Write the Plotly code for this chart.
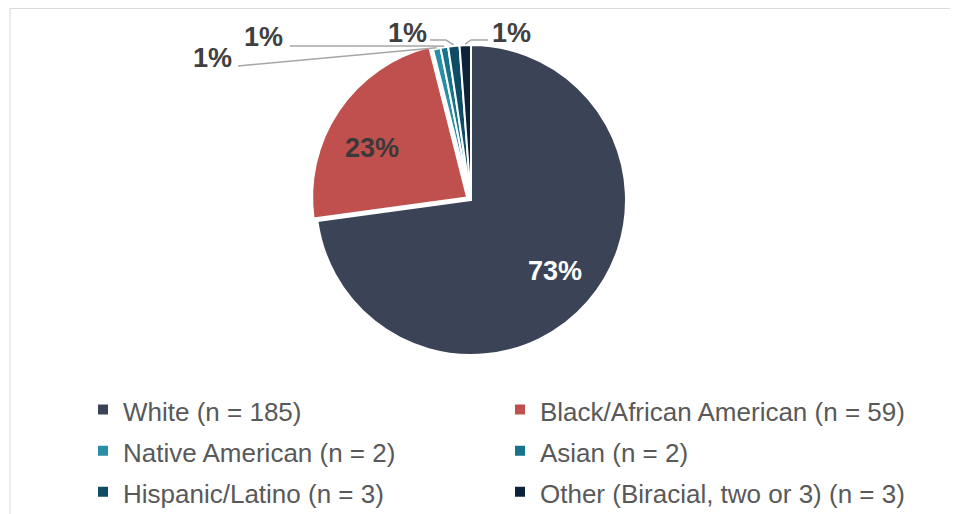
import math
import plotly.graph_objects as go

# ---------------- data ----------------
labels = [
    "White (n = 185)",
    "Black/African American (n = 59)",
    "Native American (n = 2)",
    "Asian (n = 2)",
    "Hispanic/Latino (n = 3)",
    "Other (Biracial, two or 3) (n = 3)",
]
counts = [185, 59, 2, 2, 3, 3]

# ---------------- style ----------------
colors = ["#3B4457", "#C0504D", "#2A8FA6", "#17738A", "#0E4C63", "#0B2238"]
pulls = [0, 0.03, 0, 0, 0, 0]

# page is rendered with an 8px body margin -> compensate
OFF = 8
W, H = 958 - OFF, 514 - OFF
FONT = "Liberation Sans, Arial, sans-serif"

# pie geometry (page pixels)
cx_px, cy_px, r_px = 471, 200, 155
maxpull = max(pulls)
half = r_px * (1 + maxpull)


def px2paper(x, y):
    return (x - OFF) / W, 1 - (y - OFF) / H


dx0, dy1 = px2paper(cx_px - half, cy_px - half)
dx1, dy0 = px2paper(cx_px + half, cy_px + half)

total = sum(counts)
pcts = [c / total for c in counts]

# legend rows are sized from the legend font; draw the text a bit smaller
legend_labels = ['<span style="font-size:26px">%s</span>' % l for l in labels]

fig = go.Figure()
fig.add_trace(go.Pie(
    labels=legend_labels,
    values=counts,
    sort=False,
    direction="clockwise",
    rotation=0,
    pull=pulls,
    marker=dict(colors=colors, line=dict(color="white", width=2)),
    textinfo="none",
    domain=dict(x=[dx0, dx1], y=[dy0, dy1]),
    customdata=labels,
    hovertemplate="%{customdata}<br>%{percent}<extra></extra>",
))

# slice mid-angles (computed from the data)
cum = 0.0
mids = []
for c in counts:
    mids.append((cum + c / 2) / total * 2 * math.pi)
    cum += c


def polar(i, rfrac, dang=0.0):
    a = mids[i] + math.radians(dang)
    r = r_px * rfrac + r_px * pulls[i]
    return cx_px + r * math.sin(a), cy_px - r * math.cos(a)


annotations = []
shapes = []

# inside labels for the large slices
inside = {
    0: dict(rfrac=0.71, dang=-1.0, color="#FFFFFF"),
    1: dict(rfrac=0.69, dang=-6.5, color="#3A3A3A"),
}
for i, spec in inside.items():
    x, y = polar(i, spec["rfrac"], spec["dang"])
    ax, ay = px2paper(x, y)
    annotations.append(dict(
        x=ax, y=ay, xref="paper", yref="paper",
        text="%d%%" % round(pcts[i] * 100), showarrow=False,
        font=dict(family=FONT, size=27, color=spec["color"], weight="bold"),
        xanchor="center", yanchor="middle",
    ))

# callout labels for the small slices (layout only)
callouts = {
    2: dict(text_xy=(212, 58), path=[(238, 66)]),
    3: dict(text_xy=(263, 37), path=[(290, 46), (430, 46)]),
    4: dict(text_xy=(407, 33), path=[(430, 40), (446, 40)]),
    5: dict(text_xy=(511, 33), path=[(488, 40), (471, 40)]),
}
for i, spec in callouts.items():
    tx, ty = px2paper(*spec["text_xy"])
    annotations.append(dict(
        x=tx, y=ty, xref="paper", yref="paper",
        text="%d%%" % round(pcts[i] * 100), showarrow=False,
        font=dict(family=FONT, size=27, color="#404040", weight="bold"),
        xanchor="center", yanchor="middle",
    ))
    pts = spec["path"] + [polar(i, 1.0 + 1.0 / r_px)]
    p = []
    for k, (x, y) in enumerate(pts):
        a, b = px2paper(x, y)
        p.append(("M" if k == 0 else "L") + "%.5f,%.5f" % (a, b))
    shapes.append(dict(type="path", xref="paper", yref="paper",
                       path=" ".join(p), line=dict(color="#A6A6A6", width=1.5)))

# faint frame lines (top & left)
fx, fy = px2paper(10, 8.5)
shapes.append(dict(type="line", xref="paper", yref="paper",
                   x0=fx, x1=1, y0=fy, y1=fy,
                   line=dict(color="#DADADA", width=1)))
shapes.append(dict(type="line", xref="paper", yref="paper",
                   x0=fx, x1=fx, y0=0, y1=fy,
                   line=dict(color="#DADADA", width=1)))

lx, ly = px2paper(83, 384)
fig.update_layout(
    width=W, height=H,
    margin=dict(l=0, r=0, t=0, b=0, autoexpand=False),
    paper_bgcolor="white",
    plot_bgcolor="white",
    font=dict(family=FONT, color="#595959"),
    showlegend=True,
    legend=dict(
        orientation="h",
        x=lx, xanchor="left",
        y=ly, yanchor="top",
        entrywidth=372, entrywidthmode="pixels",
        font=dict(family=FONT, size=29.3, color="#595959"),
        traceorder="normal",
        bgcolor="rgba(0,0,0,0)",
    ),
    annotations=annotations,
    shapes=shapes,
)

fig.write_html("out.html")
